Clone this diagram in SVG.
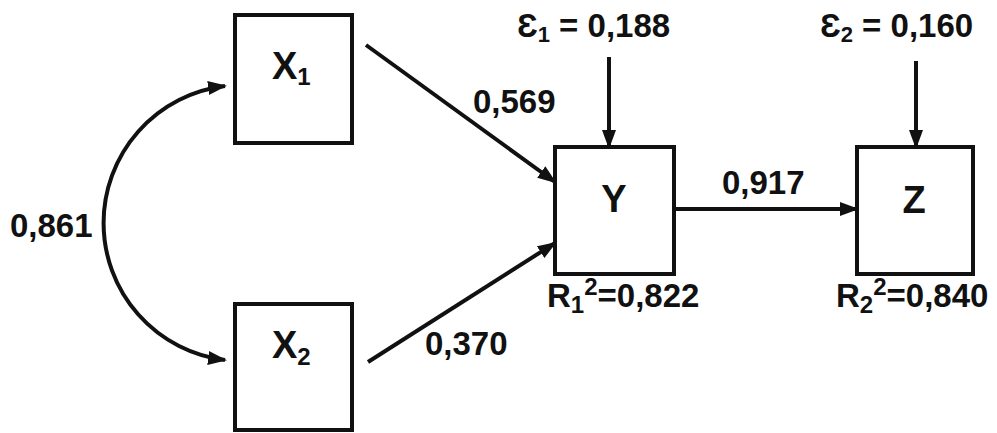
<svg xmlns="http://www.w3.org/2000/svg" width="997" height="433" viewBox="0 0 997 433">
<style>
text{font-family:"Liberation Sans",Arial,sans-serif;font-weight:bold;fill:#111}
.lbl{font-size:33px}
.rl{font-size:33px}
.node{font-size:38px}
.box{fill:#fff;stroke:#111;stroke-width:4}
.conn{fill:none;stroke:#111;stroke-width:4}
</style>
<defs>
<marker id="ah" markerUnits="userSpaceOnUse" markerWidth="20" markerHeight="16" refX="17" refY="7" orient="auto-start-reverse">
<path d="M0,0 L19,7 L0,14 z" fill="#111"/>
</marker>
</defs>
<rect width="997" height="433" fill="#fff"/>
<g id="connectors">
<path class="conn" d="M225,86 A138,138 0 0 0 225,360" marker-start="url(#ah)" marker-end="url(#ah)"/>
<path class="conn" d="M366,45 L555,182" marker-end="url(#ah)"/>
<path class="conn" d="M368,362 L555,243" marker-end="url(#ah)"/>
<path class="conn" d="M609,57 L609,147" marker-end="url(#ah)"/>
<path class="conn" d="M916,61 L916,147" marker-end="url(#ah)"/>
<path class="conn" d="M676,209 L857,209" marker-end="url(#ah)"/>
</g>
<g id="X1">
<rect class="box" x="235" y="15" width="117" height="128"/>
<text class="node" x="272" y="79">X<tspan font-size="24" dy="6">1</tspan></text>
</g>
<g id="X2">
<rect class="box" x="235" y="304" width="117" height="126"/>
<text class="node" x="272" y="358">X<tspan font-size="24" dy="7">2</tspan></text>
</g>
<g id="Y">
<rect class="box" x="555" y="147" width="119" height="127"/>
<text class="node" x="614" y="212" text-anchor="middle">Y</text>
</g>
<g id="Z">
<rect class="box" x="857" y="147" width="116" height="127"/>
<text class="node" x="914" y="213" text-anchor="middle">Z</text>
</g>
<g id="labels">
<text class="lbl" x="10" y="237">0,861</text>
<text class="lbl" x="473" y="113">0,569</text>
<text class="lbl" x="425" y="355">0,370</text>
<text class="lbl" x="722" y="194">0,917</text>
<text class="lbl" x="517" y="37">Ɛ<tspan font-size="22" dy="5">1</tspan><tspan dy="-5"> = 0,188</tspan></text>
<text class="lbl" x="820" y="37">Ɛ<tspan font-size="22" dy="5">2</tspan><tspan dy="-5"> = 0,160</tspan></text>
<text class="rl" x="547" y="307">R<tspan font-size="24" dy="6">1</tspan><tspan font-size="24" dy="-18">2</tspan><tspan dy="12">=0,822</tspan></text>
<text class="rl" x="836" y="307">R<tspan font-size="24" dy="6">2</tspan><tspan font-size="24" dy="-18">2</tspan><tspan dy="12">=0,840</tspan></text>
</g>
</svg>
